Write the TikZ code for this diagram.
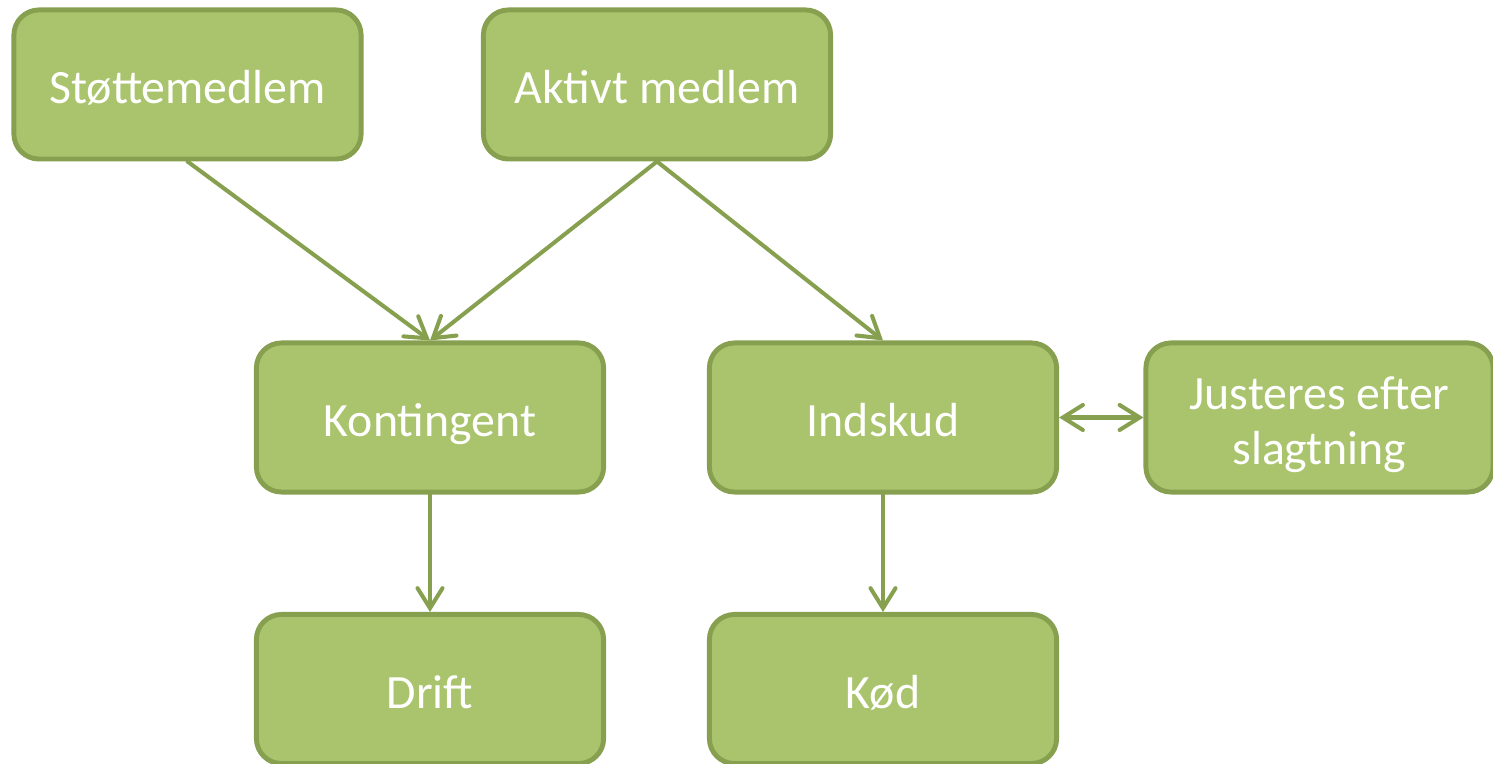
\documentclass[tikz,border=0pt]{standalone}
\usepackage{fontspec}
\setmainfont{Carlito}
\usetikzlibrary{arrows.meta}
\definecolor{boxfill}{HTML}{A9C46C}
\definecolor{boxline}{HTML}{87A050}
\begin{document}
\begin{tikzpicture}[x=0.01cm, y=-0.01cm,
    box/.style={draw=boxline, line width=1.4pt, fill=boxfill, rounded corners=0.25cm, minimum width=3.47cm, minimum height=1.49cm, align=center, text=white, text height=14pt, text depth=3pt, font=\fontsize{13.6}{15.6}\selectfont},
    barb/.tip={Straight Barb[length=0.2cm, width=0.25cm, line cap=round]},
    link/.style={draw=boxline, line width=1.15pt, line cap=round, -barb}
]
    \useasboundingbox (0,0) rectangle (1493,764);
    % Members
    \node[box] (stotte) at (187.5,84.5) {Støttemedlem};
    \node[box] (aktivt) at (657,84.5) {Aktivt medlem};
    
    % Payments
    \node[box] (kontingent) at (430,417.5) {Kontingent};
    \node[box] (indskud) at (883,417.5) {Indskud};
    \node[box, text height=29.6pt] (justeres) at (1319.5,417.5) {Justeres efter\\slagtning};
    
    % Outcomes
    \node[box] (drift) at (430,689) {Drift};
    \node[box] (kod) at (883,689) {Kød};
    
    % Arrows
    \draw[link] (stotte.south) -- (kontingent.north);
    \draw[link] (aktivt.south) -- (kontingent.north);
    \draw[link] (aktivt.south) -- (indskud.north);
    \draw[link] (kontingent) -- (drift);
    \draw[link] (indskud) -- (kod);
    \draw[link, barb-barb] (indskud) -- (justeres);
\end{tikzpicture}
\end{document}
